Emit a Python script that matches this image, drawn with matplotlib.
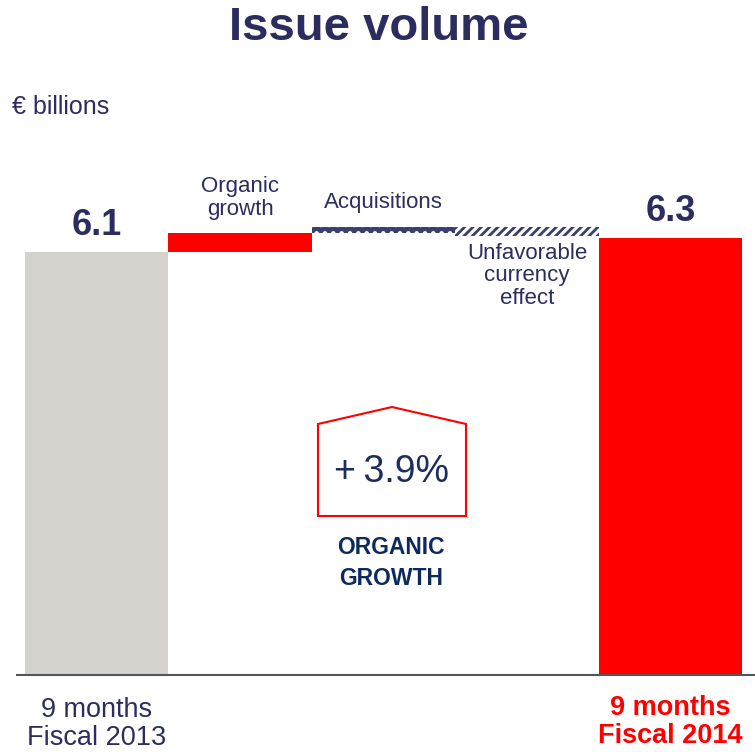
import matplotlib.pyplot as plt
from matplotlib.patches import Polygon

plt.rcParams['font.family'] = ['Liberation Sans', 'DejaVu Sans']
plt.rcParams['hatch.linewidth'] = 2.0

# data (EUR billions)
steps = ['9 months\nFiscal 2013', 'Organic\ngrowth', 'Acquisitions',
         'Unfavorable\ncurrency\neffect', '9 months\nFiscal 2014']
start_value = 6.1
changes = [0.28, 0.08, -0.12]
end_value = 6.31
start_label = '6.1'
end_label = '6.3'
organic_pct = '+\u20093.9%'

navy = '#2b2d5e'
red = '#ff0000'
gray = '#d4d2cc'

W, H = 755, 752
fig = plt.figure(figsize=(W / 100, H / 100), dpi=100)

def fx(x):
    return x / W

def fy(y):
    return 1 - y / H

# axes: baseline at y=675px, 69.3 px per unit
ax = fig.add_axes([fx(17), fy(675), fx(755) - fx(17), fy(150) - fy(675)])
ax.set_xlim(-0.556, 4.59)
ax.set_ylim(0, 525 / 69.3)

ax.bar(0, start_value, width=1, color=gray, linewidth=0)
ax.bar(4, end_value, width=1, color=red, linewidth=0)

# bridge steps
level = start_value
bottoms = []
for c in changes:
    bottoms.append(level if c > 0 else level + c)
    level += c
ax.bar(1, changes[0], bottom=bottoms[0], width=1, color=red, linewidth=0)
ax.bar(2, changes[1], bottom=bottoms[1], width=1, facecolor='#3c3f6e',
       edgecolor='white', hatch='..', linewidth=0)
ax.bar(3, abs(changes[2]), bottom=bottoms[2], width=1, facecolor='white',
       edgecolor='#3c3f6e', hatch='////', linewidth=0)

for s in ['top', 'left', 'right']:
    ax.spines[s].set_visible(False)
ax.spines['bottom'].set_color('#555555')
ax.spines['bottom'].set_linewidth(1.5)
ax.set_xticks([])
ax.set_yticks([])

pt = 0.72  # px -> points
ax.annotate(start_label, xy=(0, start_value), xytext=(0, 27 * pt),
            textcoords='offset points', ha='center', va='center',
            fontsize=26, fontweight='bold', color=navy)
ax.annotate(end_label, xy=(4, end_value), xytext=(0, 26 * pt),
            textcoords='offset points', ha='center', va='center',
            fontsize=26, fontweight='bold', color=navy)
ax.annotate(steps[1], xy=(1, start_value + changes[0]), xytext=(0, 35 * pt),
            textcoords='offset points', ha='center', va='center',
            fontsize=16, color=navy, linespacing=1.15)
ax.annotate(steps[2], xy=(2, start_value + changes[0] + changes[1]),
            xytext=(0, 25 * pt), textcoords='offset points',
            ha='center', va='center', fontsize=16, color=navy)
ax.annotate(steps[3], xy=(3, bottoms[2]), xytext=(0, -40 * pt),
            textcoords='offset points', ha='center', va='center',
            fontsize=16, color=navy, linespacing=1.1)

# category labels under end bars
ax.annotate(steps[0], xy=(0, 0), xytext=(0, -49 * pt),
            textcoords='offset points', ha='center', va='center',
            fontsize=19.5, color=navy, linespacing=1.1)
ax.annotate(steps[4], xy=(4, 0), xytext=(0, -47 * pt),
            textcoords='offset points', ha='center', va='center',
            fontsize=19.5, fontweight='bold', color=red, linespacing=1.1)

# title and unit
fig.text(fx(379), fy(28), 'Issue volume', ha='center', va='center',
         fontsize=34, fontweight='bold', color=navy)
fig.text(fx(12), fy(107), '€ billions', ha='left', va='center',
         fontsize=18, color=navy)

# organic growth callout
pts = [(318, 424), (392, 407), (466, 424), (466, 516), (318, 516)]
poly = Polygon([(fx(x), fy(y)) for x, y in pts], closed=True, fill=False,
               edgecolor=red, linewidth=1.5, transform=fig.transFigure)
fig.patches.append(poly)
fig.text(fx(391), fy(472), organic_pct, ha='center', va='center',
         fontsize=27, color='#1f2d5c')
fig.text(fx(391), fy(563), 'ORGANIC\nGROWTH', ha='center', va='center',
         fontsize=16.5, fontweight='bold', color='#0d2a5c', linespacing=1.4)

fig.savefig('out.png', dpi=100)
